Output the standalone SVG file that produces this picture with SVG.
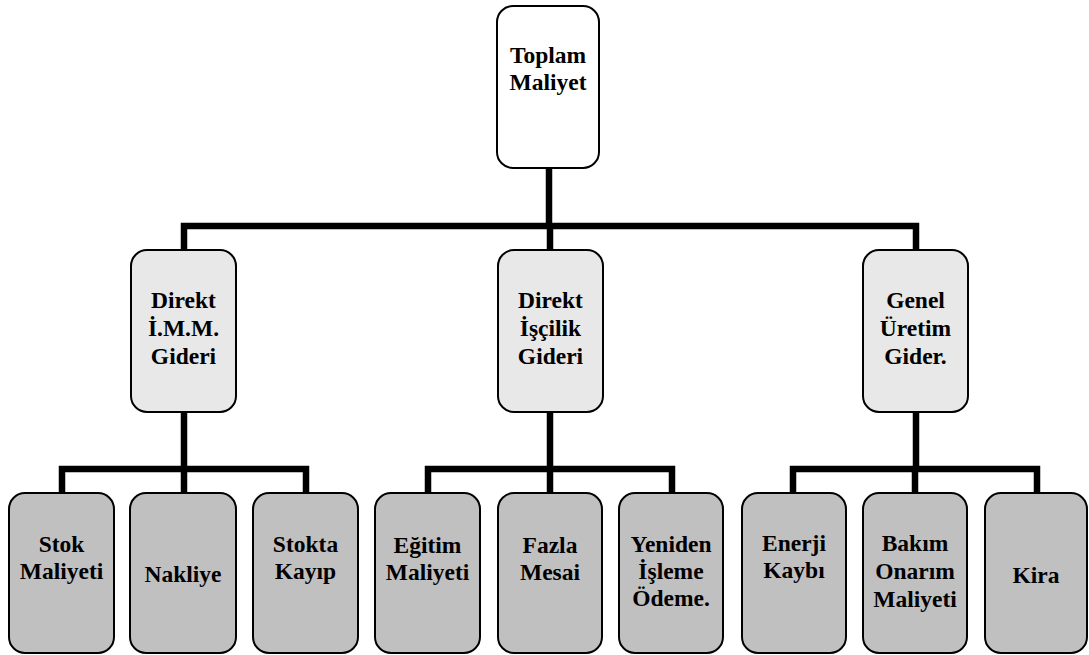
<svg xmlns="http://www.w3.org/2000/svg" width="1089" height="655" viewBox="0 0 1089 655">
  <style>
    .box { stroke: #000; stroke-width: 2; }
    .root { fill: #ffffff; }
    .mid { fill: #e8e8e8; }
    .leaf { fill: #c0c0c0; }
    text { font-family: 'Liberation Serif', 'Times New Roman', Times, serif; font-weight: bold; font-size: 23.5px; fill: #000; text-anchor: middle; }
    .wire { fill: none; stroke: #000; stroke-width: 6.5; stroke-linecap: butt; stroke-linejoin: miter; }
  </style>
  <rect width="1089" height="655" fill="#ffffff"/>

  <!-- connectors -->
  <g id="connectors" class="wire">
    <path d="M549 168 V226"/>
    <path d="M184 250 V226 H916 V250"/>
    <path d="M550 226 V250"/>
    <!-- first branch -->
    <path d="M184 412 V469"/>
    <path d="M62 493 V469 H306 V493"/>
    <path d="M184 469 V493"/>
    <!-- second branch -->
    <path d="M550 412 V469"/>
    <path d="M428 493 V469 H672 V493"/>
    <path d="M550 469 V493"/>
    <!-- third branch -->
    <path d="M916 412 V469"/>
    <path d="M793 493 V469 H1037 V493"/>
    <path d="M915 469 V493"/>
  </g>

  <!-- top level -->
  <g id="toplam" font-family="Liberation Serif, serif">
    <rect class="box root" x="497" y="6" width="102" height="162" rx="16"/>
    <text x="548" y="63">Toplam</text>
    <text x="548" y="90">Maliyet</text>
  </g>

  <!-- second level -->
  <g id="direkt-imm">
    <rect class="box mid" x="131" y="250" width="105" height="162" rx="16"/>
    <text x="183.5" y="308">Direkt</text>
    <text x="183.5" y="336">İ.M.M.</text>
    <text x="183.5" y="364">Gideri</text>
  </g>
  <g id="direkt-iscilik">
    <rect class="box mid" x="498" y="250" width="105" height="162" rx="16"/>
    <text x="550.5" y="308">Direkt</text>
    <text x="550.5" y="336">İşçilik</text>
    <text x="550.5" y="364">Gideri</text>
  </g>
  <g id="genel-uretim">
    <rect class="box mid" x="863" y="250" width="105" height="162" rx="16"/>
    <text x="915.5" y="308">Genel</text>
    <text x="915.5" y="336">Üretim</text>
    <text x="915.5" y="364">Gider.</text>
  </g>

  <!-- third level -->
  <g id="stok-maliyeti">
    <rect class="box leaf" x="9" y="493" width="105" height="160" rx="16"/>
    <text x="61.5" y="552">Stok</text>
    <text x="61.5" y="579">Maliyeti</text>
  </g>
  <g id="nakliye">
    <rect class="box leaf" x="130" y="493" width="106" height="160" rx="16"/>
    <text x="183" y="582">Nakliye</text>
  </g>
  <g id="stokta-kayip">
    <rect class="box leaf" x="253" y="493" width="105" height="160" rx="16"/>
    <text x="305.5" y="552">Stokta</text>
    <text x="305.5" y="579">Kayıp</text>
  </g>
  <g id="egitim-maliyeti">
    <rect class="box leaf" x="375" y="493" width="105" height="160" rx="16"/>
    <text x="427.5" y="553">Eğitim</text>
    <text x="427.5" y="580">Maliyeti</text>
  </g>
  <g id="fazla-mesai">
    <rect class="box leaf" x="498" y="493" width="104" height="160" rx="16"/>
    <text x="550" y="553">Fazla</text>
    <text x="550" y="580">Mesai</text>
  </g>
  <g id="yeniden-isleme">
    <rect class="box leaf" x="619" y="493" width="104" height="160" rx="16"/>
    <text x="671" y="552">Yeniden</text>
    <text x="671" y="579">İşleme</text>
    <text x="671" y="606">Ödeme.</text>
  </g>
  <g id="enerji-kaybi">
    <rect class="box leaf" x="742" y="493" width="104" height="160" rx="16"/>
    <text x="794" y="551">Enerji</text>
    <text x="794" y="578">Kaybı</text>
  </g>
  <g id="bakim-onarim">
    <rect class="box leaf" x="863" y="493" width="104" height="160" rx="16"/>
    <text x="915" y="551">Bakım</text>
    <text x="915" y="579">Onarım</text>
    <text x="915" y="607">Maliyeti</text>
  </g>
  <g id="kira">
    <rect class="box leaf" x="985" y="493" width="102" height="160" rx="16"/>
    <text x="1036" y="583">Kira</text>
  </g>
</svg>
